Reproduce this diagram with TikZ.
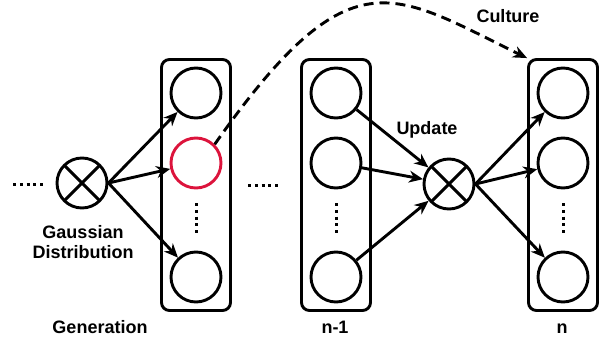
\documentclass[tikz,border=0pt]{standalone}
\usepackage{fontspec}
\setmainfont{Liberation Sans}
\usetikzlibrary{arrows.meta}
\definecolor{redring}{HTML}{DC143C}

\begin{document}
\begin{tikzpicture}[x=1pt, y=-1pt, line width=2.9pt,
  lbl/.style={font=\bfseries\fontsize{18}{20}\selectfont, inner sep=0pt},
  unit/.style={circle, draw, minimum size=50pt, inner sep=0pt},
  layer/.style={draw, rounded corners=8pt, minimum width=69pt, minimum height=251pt, inner sep=0pt},
  mixer/.style={circle, draw, minimum size=50pt, inner sep=0pt,
    path picture={\draw[line width=2.9pt]
      (path picture bounding box.north west) -- (path picture bounding box.south east)
      (path picture bounding box.north east) -- (path picture bounding box.south west);}},
  arr/.style={-{Stealth[length=14pt,width=12pt,inset=4.5pt]}},
  dots/.style={line width=3pt, dash pattern=on 3pt off 3.75pt},
]
\useasboundingbox (0,0) rectangle (608,343);

% generation layers
\node[layer] (L1) at (196,185) {};
\node[layer] (L2) at (336,185) {};
\node[layer] (L3) at (563,185) {};

% individuals
\node[unit] (c11) at (196,93) {};
\node[unit, draw=redring] (c12) at (196,163) {};
\node[unit] (c13) at (196,277) {};
\node[unit] (c21) at (336,93) {};
\node[unit] (c22) at (336,163) {};
\node[unit] (c23) at (336,277) {};
\node[unit] (c31) at (563,93) {};
\node[unit] (c32) at (563,163) {};
\node[unit] (c33) at (563,277) {};

% combination operators
\node[mixer] (g1) at (82,183) {};
\node[mixer] (g2) at (449,184) {};

% ellipses
\draw[dots] (13,184) -- (43,184);
\draw[dots] (248,185) -- (280,185);
\draw[dots] (196,203) -- (196,233);
\draw[dots] (336,203) -- (336,233);
\draw[dots] (563,203) -- (563,233);

% connectors
\draw[arr] (g1.east) -- (c11);
\draw[arr] (g1.east) -- (c12);
\draw[arr] (g1.east) -- (c13);
\draw[arr] (c21) -- (g2);
\draw[arr] (c22) -- (g2);
\draw[arr] (c23) -- (g2);
\draw[arr] (g2.east) -- (c31);
\draw[arr] (g2.east) -- (c32);
\draw[arr] (g2.east) -- (c33);
\draw[arr, dash pattern=on 10pt off 6pt] (c12.45) .. controls (350,-48) and (392,-8) .. (L3.north west);

% labels
\node[lbl, align=center] (gd) at (83,242) {Gaussian\\Distribution};
\node[lbl, anchor=base] (upd) at (427,134) {Update};
\node[lbl, anchor=base] (cul) at (508,22) {Culture};
\node[lbl, anchor=base] (gen) at (100,333) {Generation};
\node[lbl, anchor=base] (nm1) at (335,333) {n-1};
\node[lbl, anchor=base] (nn) at (562,333) {n};
\end{tikzpicture}
\end{document}
